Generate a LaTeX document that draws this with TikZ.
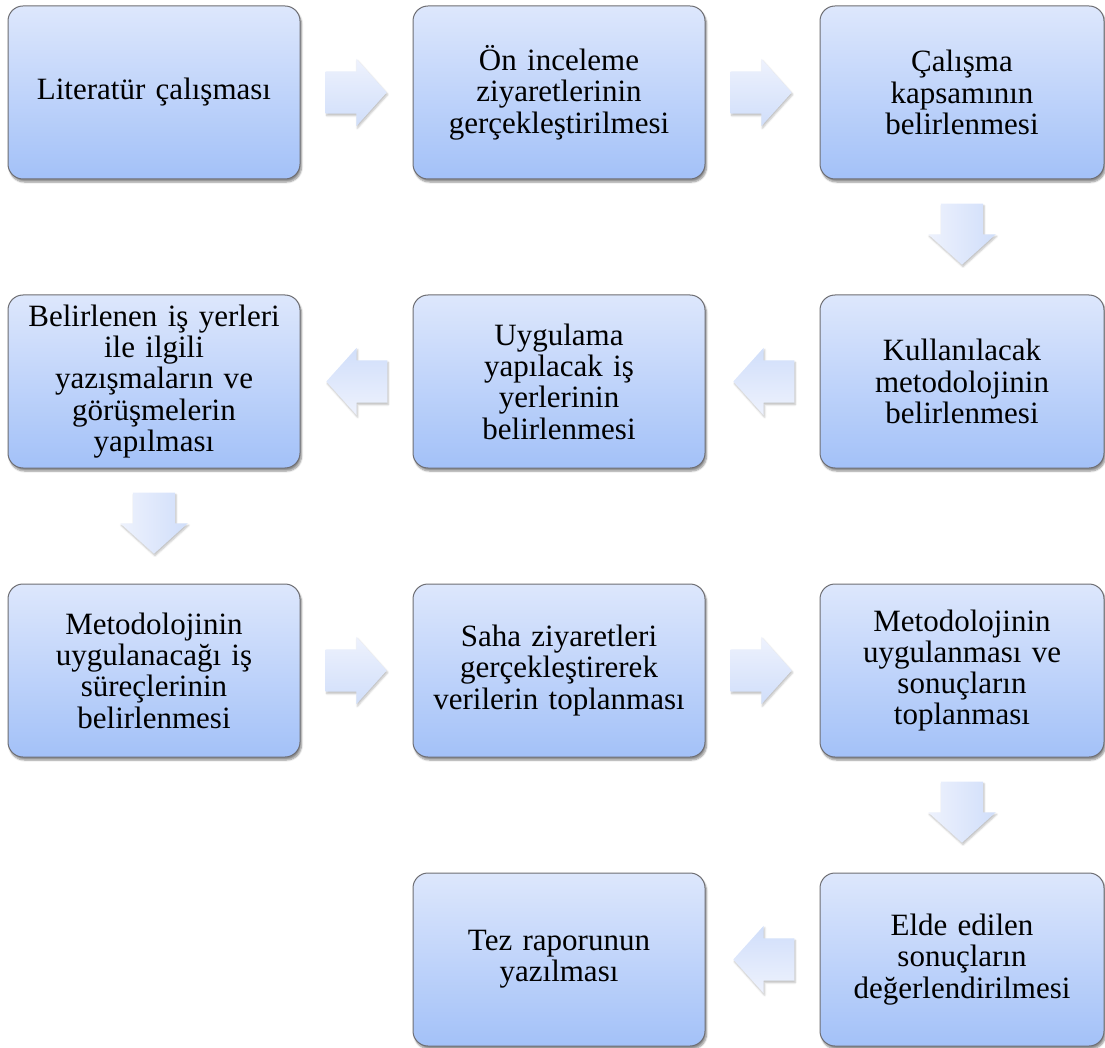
\documentclass[tikz,border=0pt]{standalone}
\usepackage{fontspec}
\setmainfont{Liberation Serif}
\usetikzlibrary{calc, positioning, shapes.arrows, shadows.blur}
\definecolor{boxtop}{RGB}{221,231,252}
\definecolor{boxbot}{RGB}{163,193,248}
\definecolor{boxline}{RGB}{110,110,115}
\definecolor{arrtop}{RGB}{238,242,253}
\definecolor{arrbot}{RGB}{208,222,250}

\begin{document}
\begin{tikzpicture}
    [
        x=1pt, y=-1pt,
        node distance=405pt,
        box/.style={draw=boxline, line width=1pt, rounded corners=15pt, top color=boxtop, bottom color=boxbot,
            minimum width=292pt, minimum height=173pt, text width=284pt, align=center, inner sep=0pt,
            font=\fontsize{31}{31.3}\selectfont,
            blur shadow={shadow xshift=1.5pt, shadow yshift=-3pt, shadow blur steps=6, shadow opacity=45}},
        nbox/.style={box, minimum width=284pt, text width=278pt},
        arr/.style={single arrow, draw=none, anchor=tail, inner xsep=0pt, inner ysep=21pt,
            minimum height=61pt, minimum width=67pt, single arrow head extend=12.5pt, single arrow tip angle=96,
            blur shadow={shadow xshift=1pt, shadow yshift=-2pt, shadow blur steps=5, shadow opacity=25}}
    ]
    \tikzstyle{rarr} = [arr, rotate=0, top color=arrtop, bottom color=arrbot]
    \tikzstyle{larr} = [arr, rotate=180, top color=arrbot, bottom color=arrtop]
    \tikzstyle{darr} = [arr, rotate=-90, left color=arrtop, right color=arrbot]

    \useasboundingbox (0,0) rectangle (1105,1048);

    % First row
    \node[box] (lit) at (154,92.5) {Literatür çalışması};
    \node[box, right of=lit] (onin) {Ön inceleme\\ziyaretlerinin\\gerçekleştirilmesi};
    \node[nbox, right of=onin, node distance=403pt] (kapsam) {Çalışma\\kapsamının\\belirlenmesi};

    % Second row, right to left
    \node[nbox, below of=kapsam, node distance=289pt] (metod) {Kullanılacak\\metodolojinin\\belirlenmesi};
    \node[box, left of=metod, node distance=403pt] (isyeri) {Uygulama\\yapılacak iş\\yerlerinin\\belirlenmesi};
    \node[box, left of=isyeri] (yazisma) {Belirlenen iş yerleri\\ile ilgili\\yazışmaların ve\\görüşmelerin\\yapılması};

    % Third row
    \node[box, below of=yazisma, node distance=289pt] (surec) {Metodolojinin\\uygulanacağı iş\\süreçlerinin\\belirlenmesi};
    \node[box, right of=surec] (saha) {Saha ziyaretleri\\gerçekleştirerek\\verilerin toplanması};
    \node[nbox, right of=saha, node distance=403pt] (uygulama) {Metodolojinin\\uygulanması ve\\sonuçların\\toplanması};

    % Last row
    \node[nbox, below of=uygulama, node distance=289pt] (deger) {Elde edilen\\sonuçların\\değerlendirilmesi};
    \node[box, left of=deger, node distance=403pt] (tez) {Tez raporunun\\yazılması};

    % Block arrows, tail 25pt away from the box they leave
    \node[rarr] (a_lit_onin) at ($(lit.east)+(25,0)$) {};
    \node[rarr] (a_onin_kapsam) at ($(onin.east)+(25,0)$) {};
    \node[darr] (a_kapsam_metod) at ($(kapsam.south)+(0,24)$) {};
    \node[larr] (a_metod_isyeri) at ($(metod.west)+(-25,0)$) {};
    \node[larr] (a_isyeri_yazisma) at ($(isyeri.west)+(-25,0)$) {};
    \node[darr] (a_yazisma_surec) at ($(yazisma.south)+(0,24)$) {};
    \node[rarr] (a_surec_saha) at ($(surec.east)+(25,0)$) {};
    \node[rarr] (a_saha_uygulama) at ($(saha.east)+(25,0)$) {};
    \node[darr] (a_uygulama_deger) at ($(uygulama.south)+(0,24)$) {};
    \node[larr] (a_deger_tez) at ($(deger.west)+(-25,0)$) {};
\end{tikzpicture}
\end{document}
